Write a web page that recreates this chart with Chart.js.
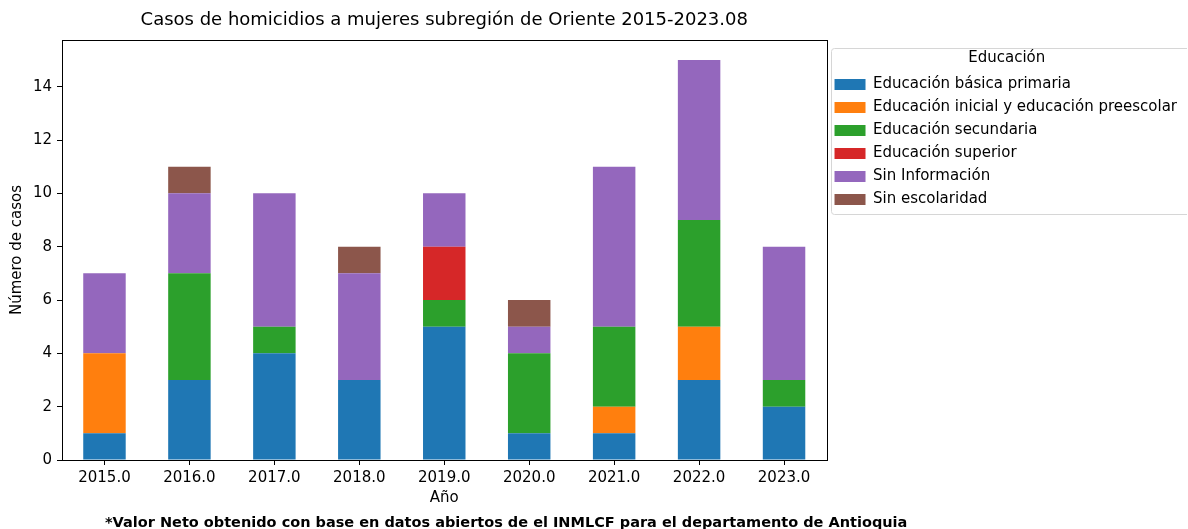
<!DOCTYPE html>
<html>
<head>
<meta charset="utf-8">
<script src="https://cdn.jsdelivr.net/npm/chart.js@4.4.0/dist/chart.umd.min.js"></script>
<style>
  html, body { margin: 0; padding: 0; background: #fff; overflow: hidden; }
  #wrap { position: relative; width: 1188px; height: 529px; overflow: hidden; }
  #chart { position: absolute; left: 0; top: 0; }
  #nota { position: absolute; left: 105px; top: 514px; font: bold 14.5px "DejaVu Sans"; color: #000; white-space: nowrap; }
</style>
</head>
<body>
<div id="wrap">
  <canvas id="chart" width="1187" height="529"></canvas>
  <div id="nota">*Valor Neto obtenido con base en datos abiertos de el INMLCF para el departamento de Antioquia</div>
</div>
<script>
// años (eje x)
var anios = ["2015.0", "2016.0", "2017.0", "2018.0", "2019.0", "2020.0", "2021.0", "2022.0", "2023.0"];

// casos por nivel educativo
var basicaPrimaria = [1, 3, 4, 3, 5, 1, 1, 3, 2];
var inicialPreescolar = [3, 0, 0, 0, 0, 0, 1, 2, 0];
var secundaria = [0, 4, 1, 0, 1, 3, 3, 4, 1];
var superior = [0, 0, 0, 0, 2, 0, 0, 0, 0];
var sinInformacion = [3, 3, 5, 4, 2, 1, 6, 6, 5];
var sinEscolaridad = [0, 1, 0, 1, 0, 1, 0, 0, 0];

var yTicks = [0, 2, 4, 6, 8, 10, 12, 14];

Chart.defaults.font.family = "DejaVu Sans";
Chart.defaults.color = "#000";

// marco de la gráfica y del legend
var marco = {
    id: "marco",
    afterDraw: function (chart) {
        var ctx = chart.ctx;
        var a = chart.chartArea;
        ctx.save();
        ctx.strokeStyle = "#000";
        ctx.lineWidth = 1;
        ctx.strokeRect(Math.round(a.left) + 0.5, Math.round(a.top) + 0.5, Math.round(a.right - a.left), Math.round(a.bottom - a.top));

        var lg = chart.legend;
        var boxes = lg.legendHitBoxes;
        var last = boxes[boxes.length - 1];
        var x = Math.round(lg.left + 4), y = Math.round(lg.top + 47);
        var w = 400, h = Math.round(last.top + last.height - y + 7);
        ctx.strokeStyle = "#d6d6d6";
        ctx.beginPath();
        ctx.roundRect(x + 0.5, y + 0.5, w, h, 3);
        ctx.stroke();
        ctx.restore();
    }
};

new Chart(document.getElementById("chart"), {
    type: "bar",
    data: {
        labels: anios,
        datasets: [
            { label: "Educación básica primaria", data: basicaPrimaria, backgroundColor: "#1f77b4" },
            { label: "Educación inicial y educación preescolar", data: inicialPreescolar, backgroundColor: "#ff7f0e" },
            { label: "Educación secundaria", data: secundaria, backgroundColor: "#2ca02c" },
            { label: "Educación superior", data: superior, backgroundColor: "#d62728" },
            { label: "Sin Información", data: sinInformacion, backgroundColor: "#9467bd" },
            { label: "Sin escolaridad", data: sinEscolaridad, backgroundColor: "#8c564b" }
        ]
    },
    options: {
        responsive: false,
        animation: false,
        layout: { padding: { top: 1, bottom: 19, left: 0, right: 0 } },
        datasets: {
            bar: { categoryPercentage: 1, barPercentage: 0.5, borderWidth: 0 }
        },
        plugins: {
            title: {
                display: true,
                text: "Casos de homicidios a mujeres subregión de Oriente 2015-2023.08",
                font: { size: 18, weight: "normal" },
                padding: { top: 9, bottom: 8.4 },
                fullSize: false
            },
            legend: {
                position: "right",
                align: "start",
                maxWidth: 420,
                title: {
                    display: true,
                    text: "Educación",
                    font: { size: 15 },
                    padding: { top: 50, bottom: 0 }
                },
                labels: {
                    boxWidth: 31,
                    boxHeight: 11,
                    padding: 8,
                    font: { size: 15 },
                    color: "#000"
                }
            },
            tooltip: { enabled: false }
        },
        scales: {
            x: {
                stacked: true,
                offset: true,
                grid: { display: true, offset: false, drawOnChartArea: false, drawTicks: true, tickLength: 5, color: "#000" },
                border: { display: true, color: "#000" },
                ticks: { font: { size: 15 }, padding: 4, maxRotation: 0 },
                title: { display: true, text: "Año", font: { size: 15 }, padding: { top: 0, bottom: 3 } },
                afterFit: function (s) { s.height = 50; }
            },
            y: {
                stacked: true,
                min: 0,
                max: 15.75,
                grid: { display: true, drawOnChartArea: false, drawTicks: true, tickLength: 5, color: "#000" },
                border: { display: true, color: "#000" },
                ticks: { font: { size: 15 }, padding: 5, stepSize: 2 },
                afterBuildTicks: function (s) {
                    s.ticks = yTicks.map(function (v) { return { value: v }; });
                },
                title: { display: true, text: "Número de casos", font: { size: 15 }, padding: { top: 8, bottom: 0 } },
                afterFit: function (s) { s.width = 62; }
            }
        }
    },
    plugins: [marco]
});
</script>
</body>
</html>
